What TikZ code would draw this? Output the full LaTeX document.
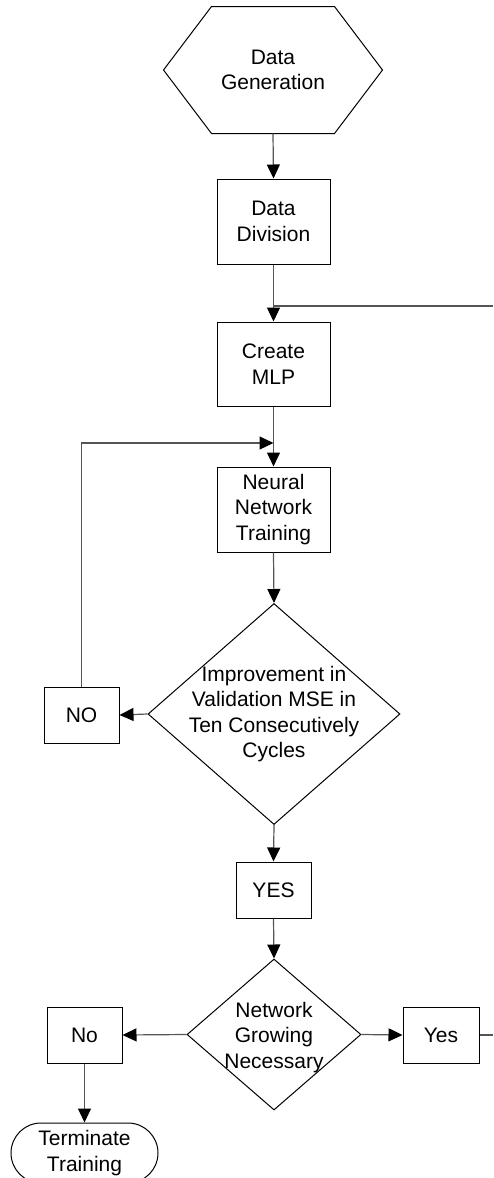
\documentclass[tikz,border=0pt]{standalone}
\usepackage{fontspec}
\setmainfont{Liberation Sans}
\usepackage{xcolor}
\definecolor{lineblack}{HTML}{000000}
\definecolor{conngray}{HTML}{555555}
\usepackage{tikz}
\usetikzlibrary{shapes.geometric, shapes.misc, arrows.meta, calc}
\tikzset{
  fbox/.style ={rectangle, draw=lineblack, line width=0.5pt, fill=white, align=center,
                inner sep=1pt, font=\fontsize{10.5}{12.8}\selectfont},
  fdec/.style ={diamond, draw=lineblack, line width=0.5pt, fill=white, inner sep=0pt},
  fdeclbl/.style={align=center, font=\fontsize{10.5}{12.8}\selectfont},
  fterm/.style={rounded rectangle, draw=lineblack, line width=0.5pt, fill=white, align=center,
                inner sep=1pt, font=\fontsize{10.5}{12.8}\selectfont, minimum width=75.5pt, minimum height=30pt},
  farr/.style ={-{Triangle[length=7pt, width=6.5pt, color=lineblack]}, line width=0.6pt, color=conngray},
  fline/.style={line width=0.6pt, color=conngray},
}
\begin{document}
\begin{tikzpicture}[x=0.5pt, y=-0.5pt]
  \useasboundingbox (0,0) rectangle (493,1178);
  % start: hexagon drawn from the node corners
  \node[fbox, draw=none, fill=none, minimum width=109pt, minimum height=63pt] (gen) at (273,70) {Data\\Generation};
  \draw[lineblack, line width=0.5pt] (gen.west) -- ($(gen.north west)+(48,0)$) -- ($(gen.north east)+(-48,0)$)
    -- (gen.east) -- ($(gen.south east)+(-48,0)$) -- ($(gen.south west)+(48,0)$) -- cycle;
  \node[fbox, minimum width=56.5pt, minimum height=42.5pt] (div) at (273.5,221.5) {Data\\Division};
  \node[fbox, minimum width=56.5pt, minimum height=42pt] (mlp) at (273.5,364) {Create\\MLP};
  \node[fbox, minimum width=56.5pt, minimum height=42.5pt] (train) at (273.5,509.5) {Neural\\Network\\Training};
  \node[fdec, minimum width=126pt, minimum height=110.5pt,
        label={[fdeclbl]center:Improvement in\\Validation MSE in\\Ten Consecutively\\Cycles}] (imp) at (274,714) {};
  \node[fbox, minimum width=37.5pt, minimum height=28pt] (no1) at (81.5,715) {NO};
  \node[fbox, minimum width=37.5pt, minimum height=28pt] (yes1) at (273.5,890) {YES};
  \node[fdec, minimum width=87pt, minimum height=75.5pt,
        label={[fdeclbl, yshift=-1.5pt]center:Network\\Growing\\Necessary}] (grow) at (274,1034.5) {};
  \node[fbox, minimum width=37.5pt, minimum height=28pt] (no2) at (84.5,1035) {No};
  \node[fbox, minimum width=38pt, minimum height=28pt] (yes2) at (441,1035) {Yes};
  \node[fterm] (term) at (84.5,1153) {Terminate\\Training};
  % free ends and bends
  \coordinate (back) at (493,306);
  \coordinate (out) at (493,1035);
  \coordinate (fb) at (273.5,443);
  % connectors
  \draw[farr] (gen.south) -- (div.north);
  \draw[farr] (div.south) -- (mlp.north);
  \draw[fline] (back) -- (div.south |- back);
  \draw[farr] (mlp.south) -- (train.north);
  \draw[farr] (no1.north) |- (fb);
  \draw[farr] (train.south) -- (imp.north);
  \draw[farr] (imp.west) -- (no1.east);
  \draw[farr] (imp.south) -- (yes1.north);
  \draw[farr] (yes1.south) -- (grow.north);
  \draw[farr] (grow.west) -- (no2.east);
  \draw[farr] (grow.east) -- (yes2.west);
  \draw[fline] (yes2.east) -- (out);
  \draw[farr] (no2.south) -- (term.north);
\end{tikzpicture}
\end{document}
